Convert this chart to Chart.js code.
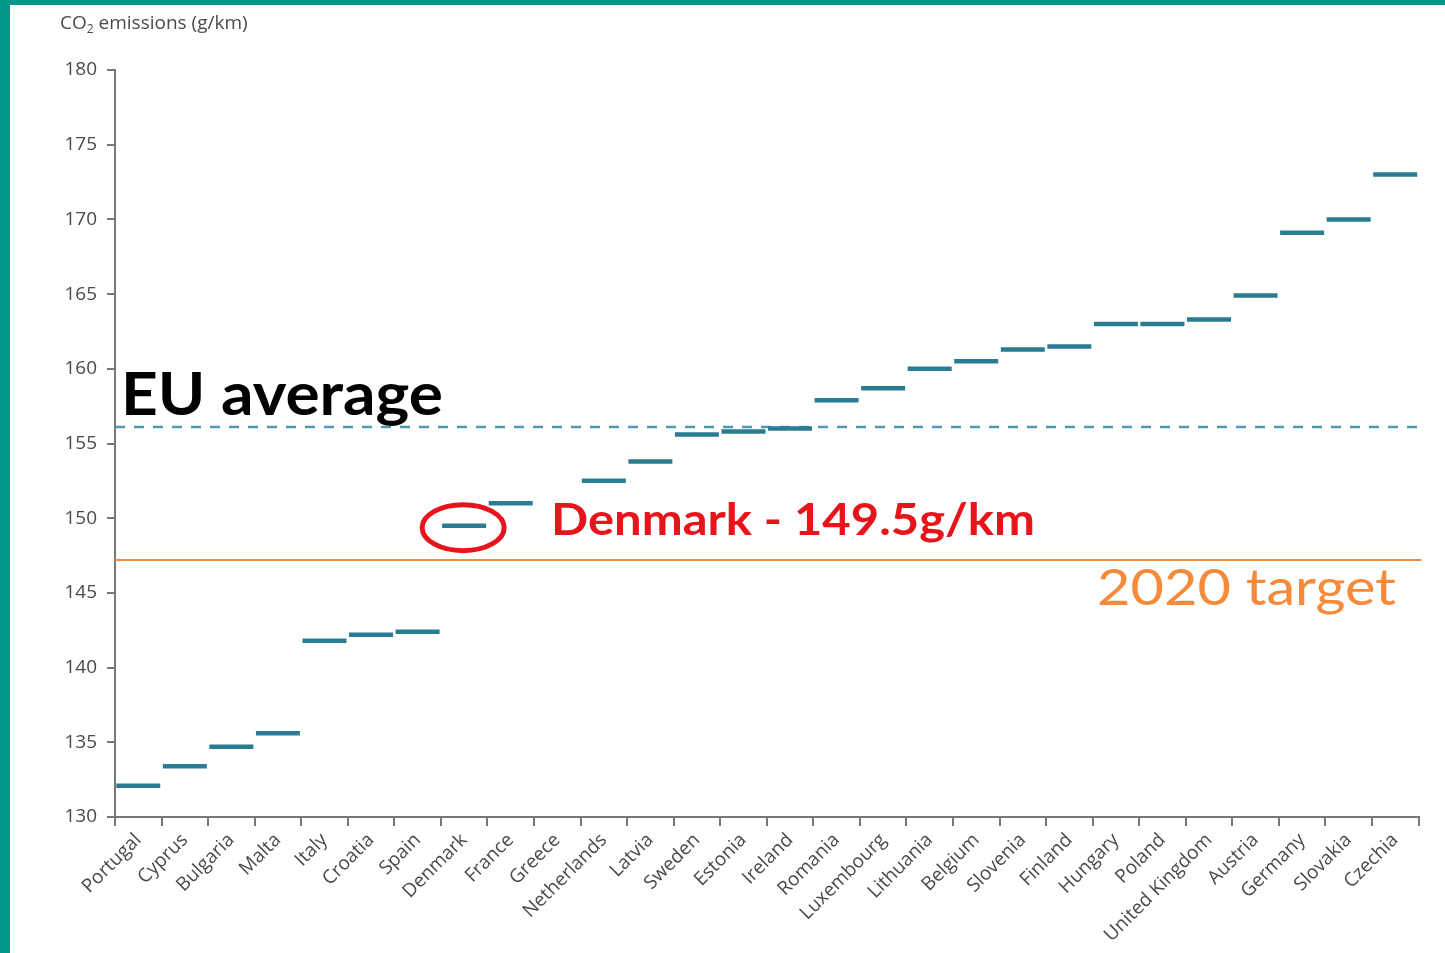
<!DOCTYPE html>
<html>
<head>
<meta charset="utf-8">
<script src="https://cdn.jsdelivr.net/npm/chart.js@4.4.1/dist/chart.umd.min.js"></script>
<style>
  html, body { margin: 0; padding: 0; background: #fff; overflow: hidden; }
  #wrap { position: relative; width: 1445px; height: 953px; }
  #left-bar { position: absolute; left: 0; top: 0; width: 10px; height: 953px; background: #00968a; }
  #top-bar { position: absolute; left: 0; top: 0; width: 1445px; height: 5px; background: #00968a; }
</style>
</head>
<body>
<div id="wrap">
  <canvas id="chart-co2" width="1445" height="953"></canvas>
  <div id="left-bar"></div>
  <div id="top-bar"></div>
</div>
<script>
// values
const countries = ['Portugal', 'Cyprus', 'Bulgaria', 'Malta', 'Italy', 'Croatia', 'Spain',
    'Denmark', 'France', 'Greece', 'Netherlands', 'Latvia', 'Sweden', 'Estonia', 'Ireland',
    'Romania', 'Luxembourg', 'Lithuania', 'Belgium', 'Slovenia', 'Finland', 'Hungary',
    'Poland', 'United Kingdom', 'Austria', 'Germany', 'Slovakia', 'Czechia'];
const emissions = [132.1, 133.4, 134.7, 135.6, 141.8, 142.2, 142.4,
    149.5, 151.0, null, 152.5, 153.8, 155.6, 155.8, 156.0,
    157.9, 158.7, 160.0, 160.5, 161.3, 161.5, 163.0,
    163.0, 163.3, 164.9, 169.1, 170.0, 173.0];
const euAverage = 156.1;
const target2020 = 147.2;
const highlight = 'Denmark';
const yMin = 130, yMax = 180, yStep = 5;

const teal = '#2a7c93';
const red = '#e8141b';
const orange = '#f58b3a';
const grey = '#4a4a4a';

// draw text squeezed/stretched to a given width
function fitText(ctx, text, x, y, width, font, color) {
    ctx.save();
    ctx.font = font;
    ctx.fillStyle = color;
    ctx.textBaseline = 'alphabetic';
    ctx.textAlign = 'left';
    const w = ctx.measureText(text).width;
    ctx.translate(x, y);
    ctx.scale(width / w, 1);
    ctx.fillText(text, 0, 0);
    ctx.restore();
}

const annotations = {
    id: 'annotations',
    beforeDatasetsDraw(chart) {
        const ctx = chart.ctx;
        const area = chart.chartArea;
        const y = chart.scales.y;
        // EU average, dashed
        ctx.save();
        ctx.strokeStyle = '#4d9ab0';
        ctx.lineWidth = 2.5;
        ctx.setLineDash([10, 9]);
        ctx.beginPath();
        ctx.moveTo(area.left, y.getPixelForValue(euAverage));
        ctx.lineTo(area.right + 3, y.getPixelForValue(euAverage));
        ctx.stroke();
        // 2020 target
        ctx.setLineDash([]);
        ctx.strokeStyle = orange;
        ctx.lineWidth = 2;
        ctx.beginPath();
        ctx.moveTo(area.left, y.getPixelForValue(target2020));
        ctx.lineTo(area.right + 3, y.getPixelForValue(target2020));
        ctx.stroke();
        ctx.restore();
    },
    afterDraw(chart) {
        const ctx = chart.ctx;
        // axis title with subscript
        ctx.save();
        ctx.fillStyle = grey;
        ctx.textBaseline = 'alphabetic';
        ctx.font = '19px "Open Sans"';
        ctx.fillText('CO', 60, 29);
        let x = 60 + ctx.measureText('CO').width;
        ctx.font = '12px "Open Sans"';
        ctx.fillText('2', x, 33);
        x += ctx.measureText('2').width;
        ctx.font = '19px "Open Sans"';
        ctx.fillText(' emissions (g/km)', x, 29);
        ctx.restore();

        fitText(ctx, 'EU average', 121, 415, 322, 'bold 60px Lato', '#000');
        fitText(ctx, 'Denmark - 149.5g/km', 551, 535, 484, 'bold 44px Lato', red);
        fitText(ctx, '2020 target', 1097, 605, 299, '51px Lato', orange);

        // ring round the highlighted country
        const i = countries.indexOf(highlight);
        const pt = chart.getDatasetMeta(0).data[i];
        ctx.save();
        ctx.strokeStyle = red;
        ctx.lineWidth = 5;
        ctx.beginPath();
        ctx.ellipse(pt.x - 1, pt.y + 2, 41, 23, 0, 0, Math.PI * 2);
        ctx.stroke();
        ctx.restore();
    }
};

const chart = new Chart(document.getElementById('chart-co2').getContext('2d'), {
    type: 'line',
    data: {
        labels: countries,
        datasets: [{
            label: 'CO2 emissions',
            data: emissions,
            showLine: false,
            pointStyle: 'line',
            pointRadius: 22,
            pointHoverRadius: 22,
            pointBorderWidth: 4.5,
            borderColor: teal,
            backgroundColor: teal
        }]
    },
    options: {
        responsive: false,
        animation: false,
        events: [],
        layout: { padding: { left: 0, right: 25, top: 70, bottom: 0 } },
        plugins: {
            legend: { display: false },
            tooltip: { enabled: false }
        },
        scales: {
            x: {
                offset: true,
                afterFit: s => { s.height = 136; },
                grid: {
                    offset: true,
                    drawOnChartArea: false,
                    tickLength: 9,
                    color: '#777',
                    lineWidth: 2
                },
                border: { color: '#777', width: 2 },
                ticks: {
                    autoSkip: false,
                    maxRotation: 45,
                    minRotation: 45,
                    padding: 3,
                    color: grey,
                    font: { family: 'Open Sans', size: 19 }
                }
            },
            y: {
                min: yMin,
                max: yMax,
                afterFit: s => { s.width = 115; },
                grid: {
                    drawOnChartArea: false,
                    tickLength: 8,
                    color: '#777',
                    lineWidth: 2
                },
                border: { color: '#777', width: 2 },
                ticks: {
                    stepSize: yStep,
                    padding: 10,
                    color: grey,
                    font: { family: 'Open Sans', size: 19 }
                }
            }
        }
    },
    plugins: [annotations]
});
</script>
</body>
</html>
